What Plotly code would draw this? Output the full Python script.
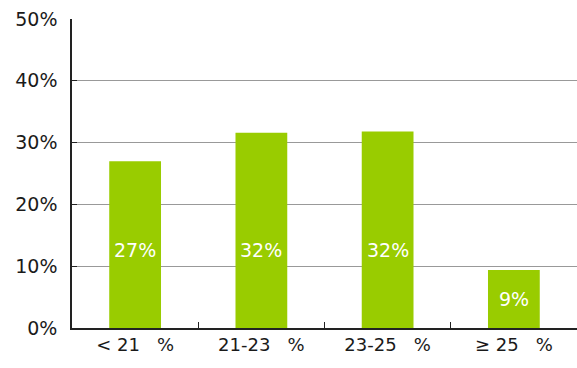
import plotly.graph_objects as go

categories = ["< 21   %", "21-23   %", "23-25   %", "≥ 25   %"]
shares = [27.0, 31.6, 31.8, 9.4]
y_ticks = [0, 10, 20, 30, 40, 50]
y_tick_labels = ["0%", "10%", "20%", "30%", "40%", "50%"]

BAR_GREEN = "#99cc00"
FONT = "DejaVu Sans"

fig = go.Figure()
fig.add_trace(go.Bar(
    x=categories,
    y=shares,
    width=0.41,
    marker=dict(color=BAR_GREEN, line=dict(width=0)),
    hoverinfo="skip",
))

# value labels: centred in short bars, at a common height in tall ones
for cat, v in zip(categories, shares):
    fig.add_annotation(
        x=cat, y=min(v / 2, 12.6), text=f"{round(v)}%",
        showarrow=False, font=dict(family=FONT, size=19, color="white"),
        xanchor="center", yanchor="middle",
    )

fig.update_layout(
    width=577, height=368,
    margin=dict(l=72, r=0, t=19, b=40),
    paper_bgcolor="white", plot_bgcolor="white",
    showlegend=False,
    bargap=0.59,
    font=dict(family=FONT, color="#1a1a1a"),
)
fig.update_xaxes(
    showgrid=False,
    showline=True, linecolor="#222", linewidth=1.5,
    ticks="inside", ticklen=6, tickcolor="#222",
    tickson="boundaries",
    tickfont=dict(family=FONT, size=18, color="#1a1a1a"),
    range=[-0.5, 3.5],
)
fig.update_yaxes(
    range=[0, 50],
    tickvals=y_ticks, ticktext=y_tick_labels,
    showgrid=True, gridcolor="#999999", gridwidth=1.2,
    showline=True, linecolor="#222", linewidth=1.5,
    ticks="inside", ticklen=5, tickcolor="#222",
    tickfont=dict(family=FONT, size=19, color="#1a1a1a"),
    ticklabelstandoff=9,
    zeroline=False,
)

fig.write_html("out.html")
